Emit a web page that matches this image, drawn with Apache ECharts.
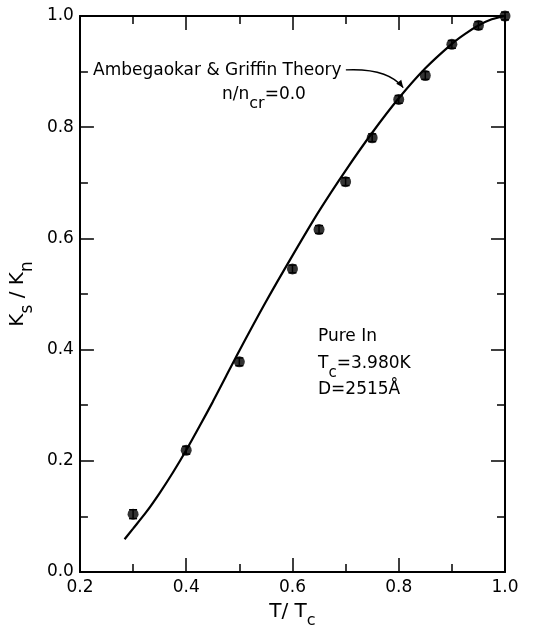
<!DOCTYPE html>
<html><head><meta charset="utf-8">
<script src="https://cdn.jsdelivr.net/npm/echarts@6/dist/echarts.min.js"></script>
<style>html,body{margin:0;padding:0;background:#fff}#c{width:553px;height:634px}</style>
</head><body><div id="c"></div>
<script>
// Measured data: T/Tc, Ks/Kn, error
const dataT = [0.30, 0.40, 0.50, 0.60, 0.65, 0.70, 0.75, 0.80, 0.85, 0.90, 0.95, 1.00];
const dataK = [0.104, 0.219, 0.378, 0.545, 0.616, 0.702, 0.781, 0.850, 0.893, 0.949, 0.983, 1.000];
const dataErr = [0.008, 0.007, 0.007, 0.007, 0.007, 0.007, 0.007, 0.007, 0.007, 0.007, 0.007, 0.007];
// Ambegaokar & Griffin theory curve
const theoryT = [0.284, 0.30, 0.325, 0.35, 0.375, 0.40, 0.425, 0.45, 0.475, 0.50, 0.55, 0.60, 0.65, 0.70, 0.75, 0.80, 0.85, 0.90, 0.925, 0.95, 0.975, 1.00];
const theoryK = [0.059, 0.078, 0.108, 0.142, 0.179, 0.219, 0.262, 0.306, 0.352, 0.398, 0.486, 0.569, 0.649, 0.722, 0.790, 0.852, 0.906, 0.950, 0.968, 0.983, 0.994, 1.000];

const FONT = 'DejaVu Sans';
const chart = echarts.init(document.getElementById('c'));
function ax(extra) {
  return Object.assign({
    axisLine: {show: true, onZero: false, lineStyle: {color: '#000', width: 2}},
    axisTick: {show: true, inside: true, length: 14, lineStyle: {color: '#000', width: 1.5}},
    minorTick: {show: true, splitNumber: 2, length: 8, lineStyle: {color: '#000', width: 1.5}},
    splitLine: {show: false}
  }, extra);
}
const pts = dataT.map((t, i) => [t, dataK[i], dataErr[i]]);
const curve = theoryT.map((t, i) => [t, theoryK[i]]);
chart.setOption({
  animation: false,
  textStyle: {fontFamily: FONT},
  grid: {left: 79, right: 48, top: 16, bottom: 61},
  xAxis: [
    ax({type: 'value', min: 0.2, max: 1.0, interval: 0.2, position: 'bottom',
      axisLabel: {color: '#000', fontSize: 17, fontFamily: FONT, margin: 7, formatter: v => v.toFixed(1)},
      name: '{a|T/ T}{b|c}', nameLocation: 'middle', nameGap: 30,
      nameTextStyle: {rich: {
        a: {fontSize: 20, fontFamily: FONT, color: '#000', lineHeight: 27, verticalAlign: 'top'},
        b: {fontSize: 16, fontFamily: FONT, color: '#000', lineHeight: 27, verticalAlign: 'bottom'}}}}),
    ax({type: 'value', min: 0.2, max: 1.0, interval: 0.2, position: 'top', axisLabel: {show: false}})
  ],
  yAxis: [
    ax({type: 'value', min: 0, max: 1.0, interval: 0.2, position: 'left',
      axisLabel: {color: '#000', fontSize: 17, fontFamily: FONT, margin: 6, formatter: v => v.toFixed(1)},
      name: '{a|K}{b|s}{a| / K}{b|n}', nameLocation: 'middle', nameGap: 31, nameRotate: 90,
      nameTextStyle: {rich: {
        a: {fontSize: 20, fontFamily: FONT, color: '#000', lineHeight: 28, verticalAlign: 'top'},
        b: {fontSize: 17, fontFamily: FONT, color: '#000', lineHeight: 28, verticalAlign: 'bottom'}}}}),
    ax({type: 'value', min: 0, max: 1.0, interval: 0.2, position: 'right', axisLabel: {show: false}})
  ],
  series: [
    {type: 'line', data: curve, smooth: 0.25, symbol: 'none',
      lineStyle: {color: '#000', width: 2.2}, z: 2},
    {
      type: 'custom', data: pts, z: 3,
      renderItem: function (params, api) {
        const x = api.value(0), y = api.value(1), e = api.value(2);
        const top = api.coord([x, y + e]);
        const bot = api.coord([x, y - e]);
        const hw = 4;
        return {type: 'group', children: [
          {type: 'line', shape: {x1: top[0], y1: top[1], x2: bot[0], y2: bot[1]}, style: {stroke: '#000', lineWidth: 1.5}},
          {type: 'line', shape: {x1: top[0]-hw, y1: top[1], x2: top[0]+hw, y2: top[1]}, style: {stroke: '#000', lineWidth: 1.5}},
          {type: 'line', shape: {x1: bot[0]-hw, y1: bot[1], x2: bot[0]+hw, y2: bot[1]}, style: {stroke: '#000', lineWidth: 1.5}}
        ]};
      }
    },
    {type: 'scatter', data: pts.map(p => [p[0], p[1]]), symbol: 'circle', symbolSize: 11,
      itemStyle: {color: '#000'}, z: 4}
  ]
});

// Annotations
const s = {fill: '#000', fontFamily: FONT, fontSize: 17};
const p1 = chart.convertToPixel({gridIndex: 0}, [0.7005, 0.903]);
const p2 = chart.convertToPixel({gridIndex: 0}, [0.8085, 0.871]);
chart.setOption({
  graphic: [
    {type: 'text', x: 93, y: 62, style: Object.assign({}, s, {text: 'Ambegaokar & Griffin Theory'})},
    {type: 'text', x: 222, y: 86, style: Object.assign({}, s, {
      text: '{a|n/n}{b|cr}{a|=0.0}',
      rich: {a: {fontSize: 17, fontFamily: FONT, lineHeight: 26, verticalAlign: 'top'},
             b: {fontSize: 16, fontFamily: FONT, lineHeight: 26, verticalAlign: 'bottom'}}
    })},
    {type: 'bezierCurve', shape: {x1: p1[0], y1: p1[1], x2: p2[0], y2: p2[1],
        cpx1: p1[0] + 42, cpy1: p1[1] - 2},
      style: {stroke: '#000', lineWidth: 1.3, fill: null}},
    {type: 'polygon', shape: {points: [[p2[0], p2[1]], [p2[0]-7, p2[1]-4], [p2[0]-2, p2[1]-8]]},
      style: {fill: '#000'}},
    {type: 'text', x: 318, y: 328, style: Object.assign({}, s, {text: 'Pure In'})},
    {type: 'text', x: 318, y: 355, style: Object.assign({}, s, {
      text: '{a|T}{b|c}{a|=3.980K}',
      rich: {a: {fontSize: 17, fontFamily: FONT, lineHeight: 26, verticalAlign: 'top'},
             b: {fontSize: 15, fontFamily: FONT, lineHeight: 26, verticalAlign: 'bottom'}}
    })},
    {type: 'text', x: 318, y: 381, style: Object.assign({}, s, {text: 'D=2515Å'})}
  ]
});
</script></body></html>
